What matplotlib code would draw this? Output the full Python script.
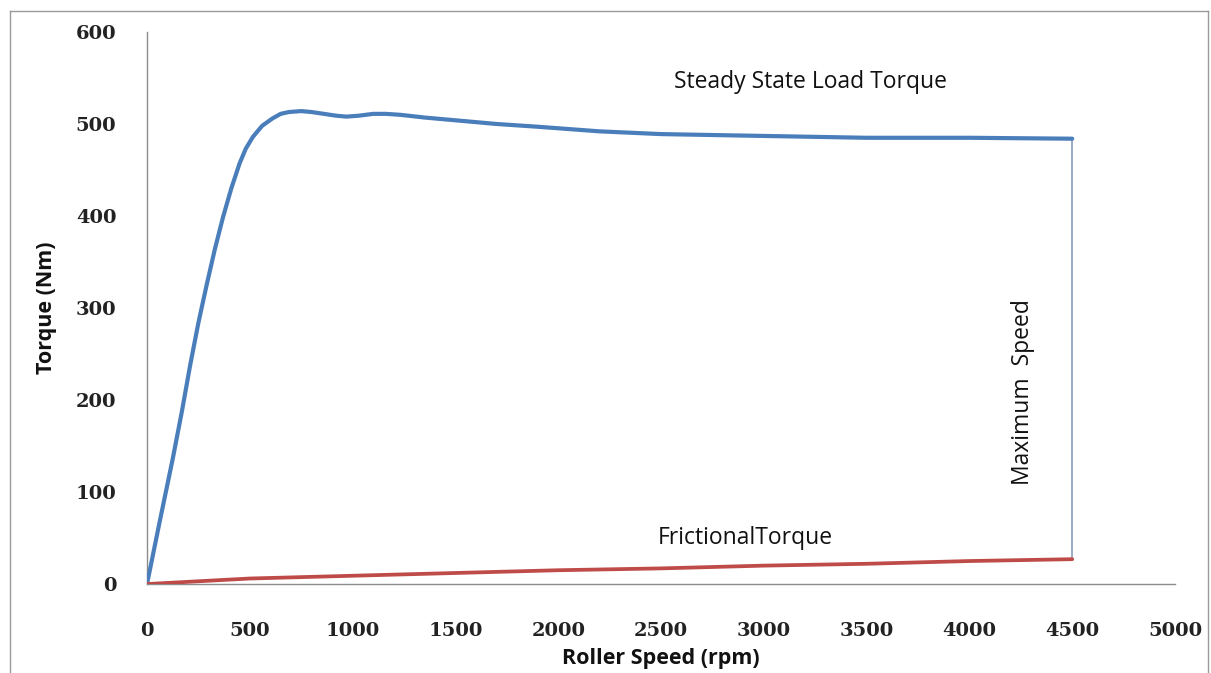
"""Torque vs roller speed: steady-state load torque and frictional torque."""

import matplotlib

matplotlib.use("Agg")
import matplotlib.pyplot as plt  # noqa: E402
from matplotlib.lines import Line2D  # noqa: E402

# curva de torque de carga
load_speed = [0, 60, 125, 170, 210, 250, 290, 330, 370, 410, 450, 480, 515,
              560, 610, 650, 690, 750, 800, 860, 920, 970, 1030, 1100, 1160,
              1230, 1350, 1500, 1700, 1900, 2200, 2500, 3000, 3500, 4000, 4500]
load_torque = [0, 66, 136, 188, 238, 284, 325, 364, 399, 430, 457, 473, 486,
               498, 506, 511, 513, 514, 513, 511, 509, 508, 509, 511, 511,
               510, 507, 504, 500, 497, 492, 489, 487, 485, 485, 484]

# torque de atrito
fric_speed = [0, 500, 1000, 1500, 2000, 2500, 3000, 3500, 4000, 4500]
fric_torque = [0, 6, 9, 12, 15, 17, 20, 22, 25, 27]

# linha de velocidade maxima
max_speed = [4500, 4500]
max_torque = [484, 27]

x_ticks = [0, 500, 1000, 1500, 2000, 2500, 3000, 3500, 4000, 4500, 5000]
y_ticks = [0, 100, 200, 300, 400, 500, 600]

fig = plt.figure(figsize=(12.11, 6.73), dpi=100)
ax = fig.add_axes([0.1214, 0.1322, 0.8489, 0.8203])

ax.plot(load_speed, load_torque, color="#4a7ebb", lw=3.0,
        solid_capstyle="round", solid_joinstyle="round", zorder=3)
ax.plot(fric_speed, fric_torque, color="#be4b48", lw=2.7,
        solid_capstyle="round", zorder=3)
ax.plot(max_speed, max_torque, color="#8097b5", lw=1.1, zorder=2)

ax.set_xlim(0, 5000)
ax.set_ylim(0, 600)
ax.set_xticks(x_ticks)
ax.set_yticks(y_ticks)
tick_font = dict(family="DejaVu Serif", weight="bold", size=14)
ax.set_xticklabels([str(v) for v in x_ticks], **tick_font, color="#222222")
ax.set_yticklabels([str(v) for v in y_ticks], **tick_font, color="#222222")
ax.tick_params(axis="x", length=0, pad=27)
ax.tick_params(axis="y", length=0, pad=22)

for side in ("top", "right"):
    ax.spines[side].set_visible(False)
for side in ("left", "bottom"):
    ax.spines[side].set_color("#8c8c8c")
    ax.spines[side].set_linewidth(1.0)

label_font = dict(family="Open Sans", weight="bold", size=15.5, color="#111111")
ax.set_xlabel("Roller Speed (rpm)", **label_font)
ax.set_ylabel("Torque (Nm)", **label_font)
ax.xaxis.set_label_coords(0.5, -0.115)
ax.yaxis.set_label_coords(-0.088, 0.5)

note_font = dict(family="Open Sans", size=16.5, color="#111111")
ax.text(3225, 546, "Steady State Load Torque", ha="center", va="center", **note_font)
ax.text(2910, 50, "FrictionalTorque", ha="center", va="center", **note_font)
ax.text(4260, 209, "Maximum  Speed", ha="center", va="center", rotation=90, **note_font)

# moldura cinza do grafico (estilo Excel)
frame = dict(color="#9a9a9a", lw=1.0, transform=fig.transFigure)
left, right, top = 10 / 1211, 1208 / 1211, 1 - 11 / 673
fig.add_artist(Line2D([left, right], [top, top], **frame))
fig.add_artist(Line2D([left, left], [0, top], **frame))
fig.add_artist(Line2D([right, right], [0, top], **frame))

fig.savefig("out.png", dpi=100)
